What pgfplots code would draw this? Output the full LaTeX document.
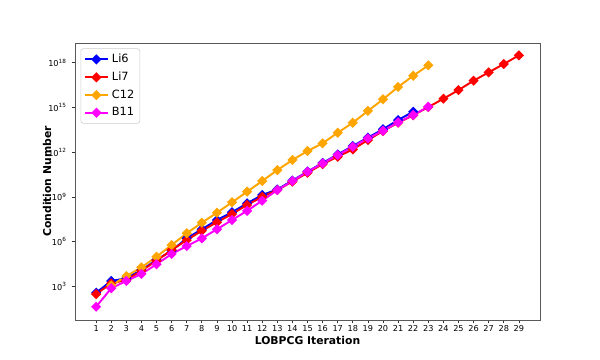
\documentclass[border=0pt]{standalone}
\usepackage{fontspec}
\setmainfont{DejaVu Sans}
\usepackage{pgfplots}
\usepackage{pgfplotstable}
\pgfplotsset{compat=1.18}
\definecolor{mplorange}{RGB}{255,165,0}
\definecolor{mplmagenta}{RGB}{255,0,255}
\definecolor{mplblue}{RGB}{0,0,255}
\definecolor{mplred}{RGB}{255,0,0}
\pgfplotstableread{
n v
1 2.57
2 3.36
3 3.54
4 4.09
5 4.77
6 5.39
7 6.22
8 6.83
9 7.45
10 7.97
11 8.57
12 9.13
13 9.50
14 10.10
15 10.70
16 11.28
17 11.85
18 12.42
19 12.98
20 13.54
21 14.16
22 14.72
}\lisix
\pgfplotstableread{
n v
1 2.48
2 3.20
3 3.42
4 4.05
5 4.72
6 5.44
7 6.10
8 6.73
9 7.30
10 7.85
11 8.46
12 9.01
13 9.46
14 10.03
15 10.62
16 11.20
17 11.70
18 12.19
19 12.82
20 13.42
21 13.98
22 14.48
23 15.03
24 15.59
25 16.17
26 16.80
27 17.36
28 17.92
29 18.50
}\liseven
\pgfplotstableread{
n v
2 3.05
3 3.69
4 4.27
5 4.99
6 5.77
7 6.56
8 7.27
9 7.94
10 8.64
11 9.35
12 10.07
13 10.80
14 11.48
15 12.08
16 12.60
17 13.31
18 13.98
19 14.77
20 15.55
21 16.38
22 17.13
23 17.83
}\ctwelve
\pgfplotstableread{
n v
1 1.63
2 2.87
3 3.36
4 3.83
5 4.48
6 5.17
7 5.70
8 6.22
9 6.83
10 7.45
11 8.07
12 8.75
13 9.46
14 10.07
15 10.69
16 11.25
17 11.81
18 12.37
19 12.93
20 13.44
21 14.00
22 14.50
23 15.05
}\belev
\begin{document}
\begin{tikzpicture}[x=1bp,y=1bp]
\useasboundingbox (-54,-28.8) rectangle (378,230.4);
\begin{axis}[
  at={(0,0)}, anchor=south west,
  scale only axis, width=334.8bp, height=199.44bp,
  ymode=log, log basis y=10,
  xmin=-0.4, xmax=30.4, ymin=5.5, ymax=2.14e19,
  xtick={1,...,29},
  ytick={1e3,1e6,1e9,1e12,1e15,1e18},
  yticklabels={10\textsuperscript{3},10\textsuperscript{6},10\textsuperscript{9},10\textsuperscript{12},10\textsuperscript{15},10\textsuperscript{18}},
  yminorticks=false,
  /pgf/number format/assume math mode=true,
  tick align=outside, tick pos=left,
  major tick length=2.5bp,
  axis line style={black!65, line width=0.6bp},
  every tick/.style={black!80, line width=0.5bp},
  tick label style={font=\fontsize{5.9}{6.5}\selectfont},
  xticklabel style={inner sep=1.2bp},
  xlabel={LOBPCG Iteration}, ylabel={Condition Number},
  label style={font=\fontsize{7.8}{9}\selectfont\bfseries},
  xlabel style={at={(axis description cs:0.5,-0.073)}, anchor=center},
  ylabel style={at={(axis description cs:-0.060,0.5)}, anchor=center, rotate=0},
  legend style={at={(axis description cs:0.012,0.981)}, anchor=north west,
    draw=black!20, rounded corners=2bp, font=\fontsize{8.2}{9.5}\selectfont,
    row sep=1.2bp, inner sep=2bp},
  legend cell align=left,
  every axis plot/.append style={line width=1.4bp, mark=square*, mark size=1.9bp, mark options={rotate=45, solid}},
]
\addplot[color=mplblue] table[x=n,y expr=10^\thisrow{v}] {\lisix};
\addlegendentry{Li6}
\addplot[color=mplred] table[x=n,y expr=10^\thisrow{v}] {\liseven};
\addlegendentry{Li7}
\addplot[color=mplorange] table[x=n,y expr=10^\thisrow{v}] {\ctwelve};
\addlegendentry{C12}
\addplot[color=mplmagenta] table[x=n,y expr=10^\thisrow{v}] {\belev};
\addlegendentry{B11}
\end{axis}
\end{tikzpicture}
\end{document}
